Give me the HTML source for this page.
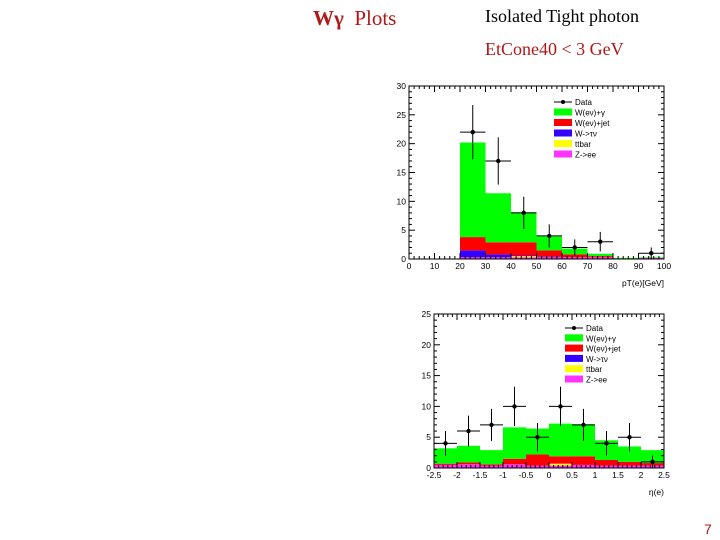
<!DOCTYPE html>
<html><head><meta charset="utf-8"><style>
body{margin:0;width:720px;height:540px;background:#fff;position:relative;overflow:hidden;font-family:"Liberation Serif",serif}
.t{position:absolute;white-space:nowrap}
svg{position:absolute;left:0;top:0}
</style></head><body>
<div class="t" style="left:313px;top:6px;font-size:21px;color:#b01818"><b>Wγ</b>&nbsp; Plots</div>
<div class="t" style="left:485px;top:6px;font-size:18px;color:#000">Isolated Tight photon</div>
<div class="t" style="left:485px;top:39px;font-size:18px;color:#b01818">EtCone40 &lt; 3 GeV</div>
<div class="t" style="left:704px;top:521px;font-size:14px;color:#b01818;font-family:'Liberation Sans',sans-serif">7</div>
<svg id="s" width="720" height="540"></svg>
<script>
// Top chart (pT) data
const ptEdges=[0,10,20,30,40,50,60,70,80,90,100];
const ptZee=[0,0,0.3,0.3,0.3,0.3,0.3,0.3,0.1,0.2];
const ptTtbar=[0,0,0,0,0.2,0,0,0,0,0];
const ptWtau=[0,0,1.2,0.5,0.1,0.1,0,0,0,0];
const ptWjet=[0,0,2.3,2.1,2.3,1.1,0.5,0.2,0,0];
const ptWgam=[0,0,16.4,8.5,5.2,2.4,1.0,0.4,0.1,0.1];
const ptDataX=[25,35,45,55,65,75,95];
const ptDataY=[22,17,8,4,2,3,1];
const ptDataErr=[4.7,4.1,2.8,2,1.4,1.7,1];
const ptTicksX=[0,10,20,30,40,50,60,70,80,90,100];
const ptTicksY=[0,5,10,15,20,25,30];
// Bottom chart (eta) data
const etaEdges=[-2.5,-2,-1.5,-1,-0.5,0,0.5,1,1.5,2,2.5];
const etaZee=[0.5,0.6,0.4,0.6,0.4,0.4,0.5,0.4,0.4,0.4];
const etaTtbar=[0,0,0,0,0,0.3,0,0,0,0];
const etaWtau=[0,0,0,0,0,0,0,0,0,0];
const etaWjet=[0.2,0.3,0.2,0.9,1.8,1.2,1.4,0.9,0.6,0.4];
const etaWgam=[2.5,2.7,2.3,5.1,4.2,5.3,5.2,3.2,2.5,2.1];
const etaDataX=[-2.25,-1.75,-1.25,-0.75,-0.25,0.25,0.75,1.25,1.75,2.25];
const etaDataY=[4,6,7,10,5,10,7,4,5,1];
const etaDataErr=[2,2.5,2.6,3.2,2.3,3.2,2.6,2,2.3,1];
const etaTicksX=[-2.5,-2,-1.5,-1,-0.5,0,0.5,1,1.5,2,2.5];
const etaTicksY=[0,5,10,15,20,25];
const colors=['#ff33ff','#ffff00','#3300ff','#ff0000','#00ff00'];
const names=['Data','W(eν)+γ','W(eν)+jet','W->τν','ttbar','Z->ee'];
const NS='http://www.w3.org/2000/svg';
const svg=document.getElementById('s');
function mk(t,a,p){const e=document.createElementNS(NS,t);for(const k in a)e.setAttribute(k,a[k]);(p||svg).appendChild(e);return e;}
function chart(cfg){
 const g=mk('g',{});
 
 
 const X=v=>cfg.L+(v-cfg.x0)/(cfg.x1-cfg.x0)*(cfg.R-cfg.L);
 const Y=v=>cfg.B-(v)/(cfg.y1)*(cfg.B-cfg.T);
 const comps=cfg.comps;
 for(let i=0;i<cfg.edges.length-1;i++){
  let base=0;
  comps.forEach((c,ci)=>{
   const v=c[i]; if(v<=0)return;
   const r=mk('rect',{x:X(cfg.edges[i]),y:Y(base+v),width:X(cfg.edges[i+1])-X(cfg.edges[i]),height:Y(base)-Y(base+v),fill:colors[ci]},g);
   
   
   base+=v;
  });
 }
 mk('rect',{x:cfg.L,y:cfg.T,width:cfg.R-cfg.L,height:cfg.B-cfg.T,fill:'none',stroke:'#000','stroke-width':1},g);
 const hw=(cfg.edges[1]-cfg.edges[0])/2;
 cfg.dx.forEach((x,i)=>{
  const y=cfg.dy[i],e=cfg.de[i];
  mk('line',{x1:X(x-hw),x2:X(x+hw),y1:Y(y),y2:Y(y),stroke:'#000','stroke-width':1},g);
  mk('line',{x1:X(x),x2:X(x),y1:Y(y-e),y2:Y(y+e),stroke:'#000','stroke-width':1},g);
  const c=mk('circle',{cx:X(x),cy:Y(y),r:2.2,fill:'#000'},g);
  
  
 });
 const txs=cfg.tx, tys=cfg.ty;
 for(let i=0;i<txs.length-1;i++){for(let k=1;k<5;k++){const v=txs[i]+(txs[i+1]-txs[i])*k/5;
  mk('line',{x1:X(v),x2:X(v),y1:cfg.B,y2:cfg.B-3,stroke:'#000'},g);mk('line',{x1:X(v),x2:X(v),y1:cfg.T,y2:cfg.T+3,stroke:'#000'},g);}}
 for(let i=0;i<tys.length-1;i++){for(let k=1;k<5;k++){const v=tys[i]+(tys[i+1]-tys[i])*k/5;
  mk('line',{x1:cfg.L,x2:cfg.L+3,y1:Y(v),y2:Y(v),stroke:'#000'},g);mk('line',{x1:cfg.R,x2:cfg.R-3,y1:Y(v),y2:Y(v),stroke:'#000'},g);}}
 txs.forEach(v=>{
  mk('line',{x1:X(v),x2:X(v),y1:cfg.B,y2:cfg.B-6,stroke:'#000'},g);
  mk('line',{x1:X(v),x2:X(v),y1:cfg.T,y2:cfg.T+6,stroke:'#000'},g);
  const t=mk('text',{x:X(v),y:cfg.B+10,'font-size':8.5,'text-anchor':'middle','font-family':'Liberation Sans,sans-serif'},g);t.textContent=v;
  
  
 });
 tys.forEach(v=>{
  mk('line',{x1:cfg.L,x2:cfg.L+6,y1:Y(v),y2:Y(v),stroke:'#000'},g);
  mk('line',{x1:cfg.R,x2:cfg.R-6,y1:Y(v),y2:Y(v),stroke:'#000'},g);
  const t=mk('text',{x:cfg.L-3,y:Y(v)+3,'font-size':8.5,'text-anchor':'end','font-family':'Liberation Sans,sans-serif'},g);t.textContent=v;
  
  
 });
 const xt=mk('text',{x:cfg.R,y:cfg.B+27,'font-size':8.5,'text-anchor':'end','font-family':'Liberation Sans,sans-serif'},g);xt.textContent=cfg.xtitle;
 
 
 const lx=cfg.lx,ly=cfg.ly;
 names.forEach((n,i)=>{
  const y=ly+i*cfg.ls;
  if(i==0){mk('line',{x1:lx,x2:lx+18,y1:y,y2:y,stroke:'#000'},g);mk('circle',{cx:lx+9,cy:y,r:2,fill:'#000'},g);}
  else mk('rect',{x:lx,y:y-4,width:18,height:7,fill:colors[5-i]},g);
  const t=mk('text',{x:lx+21,y:y+3,'font-size':8,'font-family':'Liberation Sans,sans-serif'},g);t.textContent=n;
  
  
 });
}
chart({name:'pt-chart',L:409,R:664,T:86,B:259,x0:0,x1:100,y1:30,edges:ptEdges,comps:[ptZee,ptTtbar,ptWtau,ptWjet,ptWgam],dx:ptDataX,dy:ptDataY,de:ptDataErr,tx:ptTicksX,ty:ptTicksY,xtitle:'pT(e)[GeV]',lx:554,ly:102,ls:10.5});
chart({name:'eta-chart',L:434,R:664,T:314,B:468,x0:-2.5,x1:2.5,y1:25,edges:etaEdges,comps:[etaZee,etaTtbar,etaWtau,etaWjet,etaWgam],dx:etaDataX,dy:etaDataY,de:etaDataErr,tx:etaTicksX,ty:etaTicksY,xtitle:'η(e)',lx:565,ly:328,ls:10.3});
</script>
</body></html>
